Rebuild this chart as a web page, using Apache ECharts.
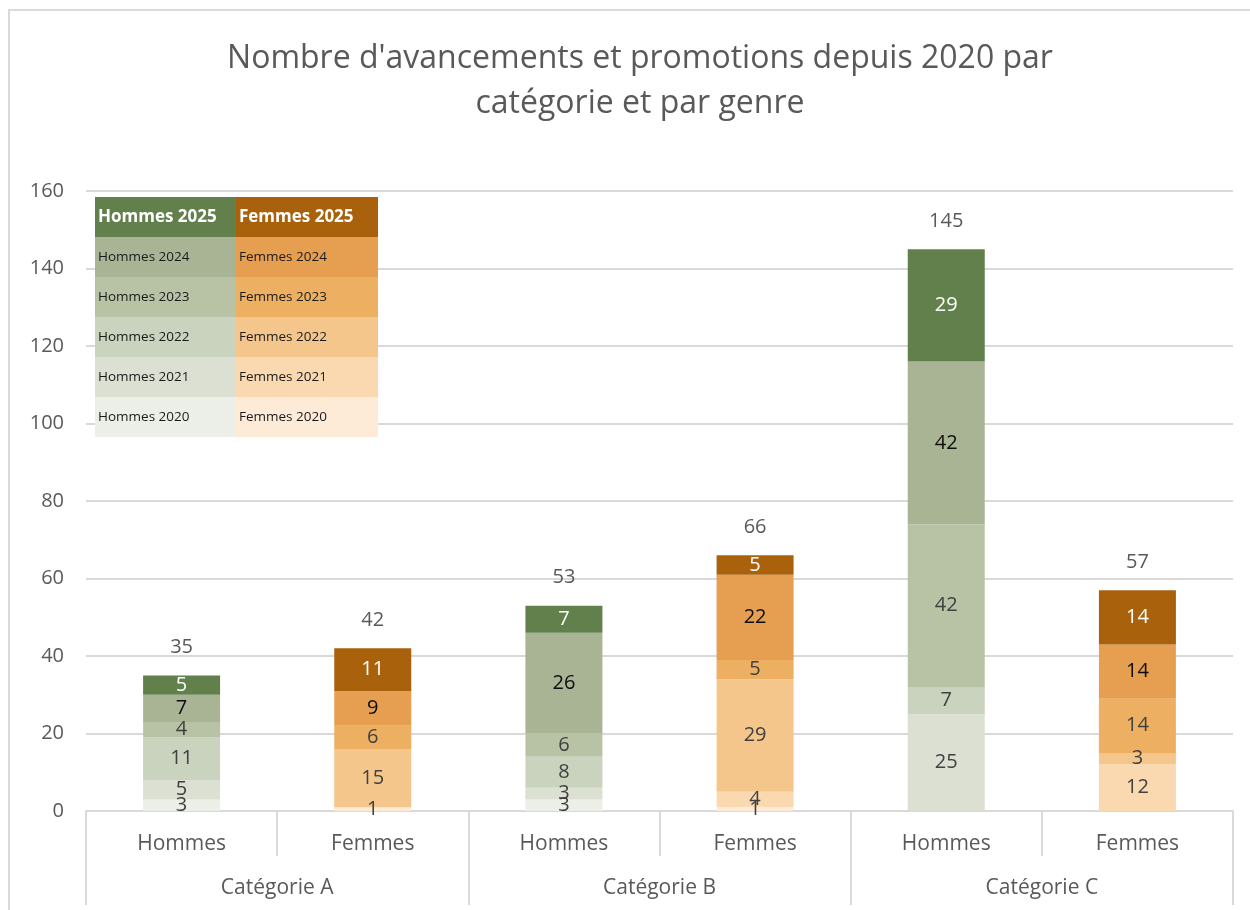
<!DOCTYPE html>
<html>
<head>
<meta charset="utf-8">
<script src="https://cdn.jsdelivr.net/npm/echarts@6/dist/echarts.min.js"></script>
<style>
  body { margin: 0; background: #fff; }
  #chart { width: 1250px; height: 910px; }
</style>
</head>
<body>
<div id="chart"></div>
<script>
// axe des catégories (deux niveaux)
const genres = ['Hommes', 'Femmes', 'Hommes', 'Femmes', 'Hommes', 'Femmes'];
const groupes = ['Catégorie A', 'Catégorie B', 'Catégorie C'];
const annees = ['2020', '2021', '2022', '2023', '2024', '2025'];

// valeurs par année : [Catégorie A, Catégorie B, Catégorie C]
const hommes2020 = [3, 3, 0];
const hommes2021 = [5, 3, 25];
const hommes2022 = [11, 8, 7];
const hommes2023 = [4, 6, 42];
const hommes2024 = [7, 26, 42];
const hommes2025 = [5, 7, 29];

const femmes2020 = [1, 1, 0];
const femmes2021 = [0, 4, 12];
const femmes2022 = [15, 29, 3];
const femmes2023 = [6, 5, 14];
const femmes2024 = [9, 22, 14];
const femmes2025 = [11, 5, 14];

const yTicks = { min: 0, max: 160, interval: 20 };

const couleursHommes = ['#eceee8', '#dbe0d2', '#c9d3be', '#b8c3a5', '#a9b495', '#61804c'];
const couleursFemmes = ['#fdebd8', '#fad9b0', '#f5c68b', '#edb063', '#e69f50', '#a9620b'];

const hommesParAnnee = [hommes2020, hommes2021, hommes2022, hommes2023, hommes2024, hommes2025];
const femmesParAnnee = [femmes2020, femmes2021, femmes2022, femmes2023, femmes2024, femmes2025];

const police = 'Open Sans';
const gris = '#595959';

function labelColor(i) {
    if (i === 5) return '#ffffff';
    if (i === 4) return '#0d0d0d';
    return '#404040';
}

// totaux par barre
let totaux = [];
for (let g = 0; g < groupes.length; g++) {
    let h = 0, f = 0;
    for (let i = 0; i < annees.length; i++) {
        h += hommesParAnnee[i][g];
        f += femmesParAnnee[i][g];
    }
    totaux.push(h, f);
}

let series = [];
for (let i = 0; i < annees.length; i++) {
    let dataH = [], dataF = [];
    for (let g = 0; g < groupes.length; g++) {
        dataH.push(hommesParAnnee[i][g], null);
        dataF.push(null, femmesParAnnee[i][g]);
    }
    series.push({
        name: 'Hommes ' + annees[i],
        type: 'bar', stack: 'total', barWidth: 77,
        itemStyle: { color: couleursHommes[i] },
        label: {
            show: true, position: 'inside', fontFamily: police, fontSize: 20,
            color: labelColor(i),
            formatter: p => (p.value ? p.value : '')
        },
        data: dataH
    });
    series.push({
        name: 'Femmes ' + annees[i],
        type: 'bar', stack: 'total', barWidth: 77,
        itemStyle: { color: couleursFemmes[i] },
        label: {
            show: true, position: 'inside', fontFamily: police, fontSize: 20,
            color: labelColor(i),
            formatter: p => (p.value ? p.value : '')
        },
        data: dataF
    });
}
// série vide au sommet pour afficher les totaux
series.push({
    name: 'Total', type: 'bar', stack: 'total', barWidth: 77,
    itemStyle: { color: 'transparent' },
    label: {
        show: true, position: 'top', distance: 18, fontFamily: police, fontSize: 20, color: gris,
        formatter: p => totaux[p.dataIndex]
    },
    data: genres.map(() => 0)
});

// légende en tableau : une colonne par genre
function legendItems(prefix, couleurs) {
    let items = [];
    for (let i = annees.length - 1; i >= 0; i--) {
        let entete = i === annees.length - 1;
        items.push({
            name: prefix + ' ' + annees[i],
            textStyle: {
                backgroundColor: couleurs[i],
                color: entete ? '#ffffff' : '#1a1a1a',
                fontWeight: entete ? 'bold' : 'normal',
                fontSize: entete ? 17 : 13.5,
                fontFamily: police,
                width: 139, height: 40, lineHeight: 40,
                padding: [0, 0, 0, 3]
            }
        });
    }
    return items;
}

var chart = echarts.init(document.getElementById('chart'));
var option = {
    backgroundColor: '#ffffff',
    animation: false,
    title: {
        text: "Nombre d'avancements et promotions depuis 2020 par\ncatégorie et par genre",
        left: 635, top: 31, textAlign: 'center',
        textStyle: { fontFamily: police, fontSize: 32, fontWeight: 'normal', color: gris, lineHeight: 45 }
    },
    graphic: [{
        type: 'rect', z: -10, silent: true,
        shape: { x: 9, y: 10, width: 1400, height: 1000 },
        style: { fill: 'none', stroke: '#d9d9d9', lineWidth: 2 }
    }],
    legend: [
        {
            orient: 'vertical', left: 90, top: 197, padding: 0, itemGap: 0,
            itemWidth: 0, icon: 'none', selectedMode: false,
            data: legendItems('Hommes', couleursHommes)
        },
        {
            orient: 'vertical', left: 231, top: 197, padding: 0, itemGap: 0,
            itemWidth: 0, icon: 'none', selectedMode: false,
            data: legendItems('Femmes', couleursFemmes)
        }
    ],
    grid: { left: 86, right: 17, top: 191, bottom: 99, outerBoundsMode: 'none' },
    xAxis: [
        {
            type: 'category', position: 'bottom', data: genres,
            axisLine: { show: true, lineStyle: { color: '#d9d9d9', width: 2 } },
            axisTick: { show: true, length: 45, interval: 0, lineStyle: { color: '#d9d9d9', width: 2 } },
            axisLabel: { interval: 0, margin: 23, fontFamily: police, fontSize: 21, color: gris },
            splitLine: { show: false }
        },
        {
            type: 'category', position: 'bottom', data: groupes,
            axisLine: { show: false },
            axisTick: { show: true, length: 94, interval: 0, lineStyle: { color: '#d9d9d9', width: 2 } },
            axisLabel: { interval: 0, margin: 67, fontFamily: police, fontSize: 21, color: gris },
            splitLine: { show: false }
        }
    ],
    yAxis: {
        type: 'value', min: yTicks.min, max: yTicks.max, interval: yTicks.interval,
        axisLine: { show: false },
        axisTick: { show: false },
        axisLabel: { margin: 22, fontFamily: police, fontSize: 20, color: gris },
        splitLine: { show: true, lineStyle: { color: '#d9d9d9', width: 2 } }
    },
    series: series
};
chart.setOption(option);
</script>
</body>
</html>
